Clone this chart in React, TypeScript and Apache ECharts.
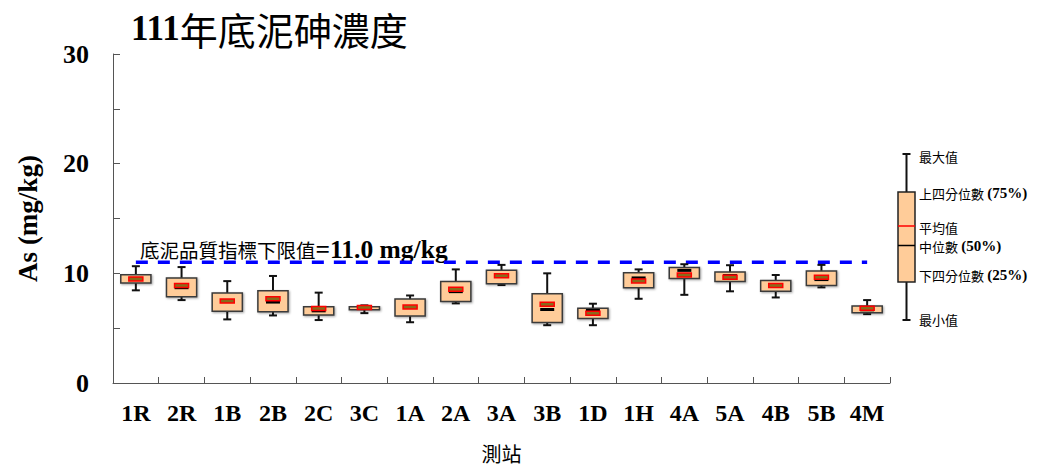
import React, { useEffect, useRef } from "react";
import * as echarts from "echarts";

const categories = ["1R", "2R", "1B", "2B", "2C", "3C", "1A", "2A", "3A", "3B", "1D", "1H", "4A", "5A", "4B", "5B", "4M"];
const minValues = [8.45, 7.56, 5.8, 6.16, 5.74, 6.37, 5.54, 7.26, 8.93, 5.27, 5.27, 7.68, 8.04, 8.36, 7.8, 8.72, 6.28];
const q1Values = [9.11, 7.86, 6.55, 6.49, 6.19, 6.67, 6.1, 7.44, 9.05, 5.51, 5.89, 8.69, 9.52, 9.26, 8.36, 8.9, 6.4];
const medianValues = [9.5, 8.69, 7.47, 7.38, 6.58, 6.8, 6.95, 8.33, 9.75, 6.7, 6.61, 9.58, 10.27, 9.79, 8.9, 9.43, 6.67];
const q3Values = [9.88, 9.58, 8.21, 8.42, 6.96, 6.96, 7.65, 9.26, 10.27, 8.13, 6.82, 10.06, 10.54, 10.12, 9.35, 10.21, 7.02];
const maxValues = [10.65, 10.57, 9.29, 9.76, 8.24, 7.08, 7.98, 10.36, 10.77, 10.0, 7.23, 10.36, 10.83, 10.74, 9.85, 10.77, 7.56];
const meanValues = [9.49, 8.9, 7.47, 7.68, 6.79, 6.88, 6.93, 8.54, 9.79, 7.17, 6.37, 9.31, 9.85, 9.64, 8.9, 9.64, 6.82];
const LIMIT = 11.0;
const yTicks = [0, 10, 20, 30];

const SERIF = "'Liberation Serif', 'DejaVu Serif', 'Noto Sans CJK TC', serif";
const CJK = "'Noto Sans CJK TC', 'Liberation Serif', sans-serif";

export default function App() {
  const ref = useRef<HTMLDivElement>(null);
  useEffect(() => {
    const chart = echarts.init(ref.current!, null, { renderer: "svg" });
    const boxData = categories.map((_, i) => [
      i,
      minValues[i],
      q1Values[i],
      medianValues[i],
      q3Values[i],
      maxValues[i],
      meanValues[i],
    ]);

    const renderItem = (params: any, api: any) => {
      const idx = api.value(0);
      const x = api.coord([idx, 0])[0];
      const yMin = api.coord([idx, api.value(1)])[1];
      const yQ1 = api.coord([idx, api.value(2)])[1];
      const yMed = api.coord([idx, api.value(3)])[1];
      const yQ3 = api.coord([idx, api.value(4)])[1];
      const yMax = api.coord([idx, api.value(5)])[1];
      const yMean = api.coord([idx, api.value(6)])[1];
      const bw = api.size([1, 0])[0] * 0.66;
      const capW = 8;
      const markW = 14;
      const lineStyle = { stroke: "#111", lineWidth: 2 };
      return {
        type: "group",
        children: [
          { type: "line", shape: { x1: x, y1: yMax, x2: x, y2: yMin }, style: lineStyle },
          { type: "line", shape: { x1: x - capW / 2, y1: yMax, x2: x + capW / 2, y2: yMax }, style: lineStyle },
          { type: "line", shape: { x1: x - capW / 2, y1: yMin, x2: x + capW / 2, y2: yMin }, style: lineStyle },
          {
            type: "rect",
            shape: { x: x - bw / 2, y: yQ3, width: bw, height: Math.max(yQ1 - yQ3, 1) },
            style: { fill: "#FFCC99", stroke: "#3a3a3a", lineWidth: 1.5, shadowBlur: 2, shadowColor: "rgba(0,0,0,0.35)", shadowOffsetX: 1, shadowOffsetY: 1 },
          },
          {
            type: "rect",
            shape: { x: x - markW / 2, y: yMed - 1.5, width: markW, height: 3 },
            style: { fill: "#000" },
          },
          {
            type: "rect",
            shape: { x: x - markW / 2, y: yMean - 2, width: markW, height: 4 },
            style: { fill: "#8a6a1a", stroke: "#ff0000", lineWidth: 1.5 },
          },
        ],
      };
    };

    const legendX = 906.5;
    const legendText = (y: number, cjk: string, latin?: string) => ({
      type: "text",
      x: 919,
      y,
      style: {
        text: latin ? `{c|${cjk}} {l|${latin}}` : `{c|${cjk}}`,
        verticalAlign: "middle",
        rich: {
          c: { fontFamily: CJK, fontSize: 13, fill: "#000" },
          l: { fontFamily: SERIF, fontSize: 15, fontWeight: "bold", fill: "#000" },
        },
      },
    });

    chart.setOption({
      animation: false,
      backgroundColor: "#fff",
      title: {
        text: "{n|111}{c|年底泥砷濃度}",
        left: 126,
        top: 4,
        textStyle: {
          rich: {
            n: { fontFamily: SERIF, fontSize: 35, fontWeight: "bold", color: "#000" },
            c: { fontFamily: CJK, fontSize: 38, fontWeight: "normal", color: "#000" },
          },
        },
      },
      grid: { left: 113, right: 147, top: 54, bottom: 78 },
      xAxis: {
        type: "category",
        data: categories,
        boundaryGap: true,
        axisLine: { lineStyle: { color: "#555", width: 1 } },
        axisTick: { show: true, inside: true, length: 6, alignWithLabel: false, interval: 0, lineStyle: { color: "#555" } },
        axisLabel: { interval: 0, margin: 18, fontFamily: SERIF, fontSize: 24, fontWeight: "bold", color: "#000" },
        name: "測站",
        nameLocation: "middle",
        nameGap: 60,
        nameTextStyle: { fontFamily: CJK, fontSize: 20, fontWeight: "normal", color: "#000" },
        splitLine: { show: false },
      },
      yAxis: {
        type: "value",
        min: 0,
        max: 30,
        interval: 5,
        axisLine: { show: true, lineStyle: { color: "#555", width: 1 } },
        axisTick: { show: true, inside: true, length: 7, lineStyle: { color: "#555" } },
        axisLabel: {
          margin: 24,
          fontFamily: SERIF,
          fontSize: 26,
          fontWeight: "bold",
          color: "#000",
          formatter: (v: number) => (yTicks.includes(v) ? String(v) : ""),
        },
        splitLine: { show: false },
        name: "As (mg/kg)",
        nameLocation: "middle",
        nameRotate: 90,
        nameGap: 72,
        nameTextStyle: { fontFamily: SERIF, fontSize: 27, fontWeight: "bold", color: "#000" },
      },
      series: [
        {
          type: "line",
          data: categories.map(() => LIMIT),
          symbol: "none",
          lineStyle: { color: "#0000FF", width: 3.5, type: [12, 10] },
          silent: true,
          z: 1,
        },
        {
          type: "custom",
          renderItem,
          data: boxData,
          encode: { x: 0, y: [1, 2, 3, 4, 5, 6] },
          z: 3,
        },
      ],
      graphic: [
        {
          type: "text",
          x: 140,
          y: 249,
          style: {
            text: "{c|底泥品質指標下限值}{l|=11.0 mg/kg}",
            verticalAlign: "middle",
            rich: {
              c: { fontFamily: CJK, fontSize: 19.5, fill: "#000" },
              l: { fontFamily: SERIF, fontSize: 25.5, fontWeight: "bold", fill: "#000" },
            },
          },
        },
        { type: "line", shape: { x1: legendX, y1: 154, x2: legendX, y2: 320 }, style: { stroke: "#111", lineWidth: 2 } },
        { type: "line", shape: { x1: legendX - 4, y1: 154, x2: legendX + 4, y2: 154 }, style: { stroke: "#111", lineWidth: 2 } },
        { type: "line", shape: { x1: legendX - 4, y1: 320, x2: legendX + 4, y2: 320 }, style: { stroke: "#111", lineWidth: 2 } },
        { type: "rect", shape: { x: 898, y: 192, width: 17, height: 90 }, style: { fill: "#FFCC99", stroke: "#222", lineWidth: 1.5 } },
        { type: "line", shape: { x1: 898, y1: 226, x2: 915, y2: 226 }, style: { stroke: "#ff0000", lineWidth: 1.5 } },
        { type: "line", shape: { x1: 898, y1: 245.5, x2: 915, y2: 245.5 }, style: { stroke: "#000", lineWidth: 1.5 } },
        legendText(156, "最大值"),
        legendText(193, "上四分位數", "(75%)"),
        legendText(227, "平均值"),
        legendText(246, "中位數", "(50%)"),
        legendText(275, "下四分位數", "(25%)"),
        legendText(319, "最小值"),
      ],
    });
    return () => chart.dispose();
  }, []);
  return <div ref={ref} style={{ position: "fixed", left: 0, top: 0, width: 1037, height: 468 }} />;
}
